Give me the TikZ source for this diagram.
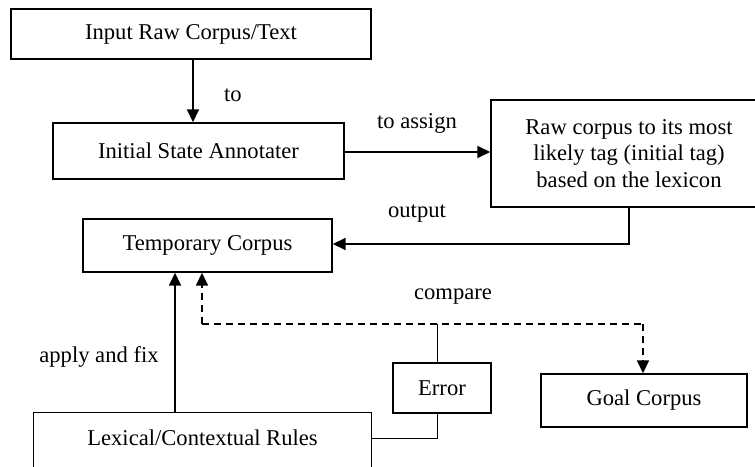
\documentclass[tikz,border=0pt]{standalone}
\usepackage{fontspec}
\setmainfont{Liberation Serif}
\usetikzlibrary{arrows.meta}
\begin{document}
\begin{tikzpicture}[x=1pt,y=-1pt,
  box/.style={draw,line width=1.4pt,rectangle,inner sep=0pt,align=center,
    font=\fontsize{22.6}{26.5}\selectfont},
  lbl/.style={font=\fontsize{22.6}{26}\selectfont,inner sep=0pt},
  arr/.style={line width=1.6pt,-{Triangle[length=13pt,width=12pt]}},
  dsh/.style={line width=1.6pt,dash pattern=on 7pt off 5pt},
  thin/.style={line width=1pt}]
\useasboundingbox (0,0) rectangle (755,466);
\node[box,minimum width=360pt,minimum height=50pt] (in) at (191,34) {Input Raw Corpus/Text};
\node[box,minimum width=291pt,minimum height=56pt] (isa) at (198.5,151) {Initial State Annotater};
\node[box,minimum width=276pt,minimum height=107pt] (raw) at (629,153.5) {Raw corpus to its most\\likely tag (initial tag)\\based on the lexicon};
\node[box,minimum width=249pt,minimum height=53pt] (tmp) at (207.5,245.5) {Temporary Corpus};
\node[box,draw=none,minimum width=337pt,minimum height=50pt] (lex) at (202.5,438) {Lexical/Contextual Rules};
\draw[line width=1.4pt] (lex.south west) ++(0,12) |- (lex.north east) -- ++(0,62);
\node[box,minimum width=98pt,minimum height=50pt] (err) at (442,388) {Error};
\node[box,minimum width=206pt,minimum height=53pt] (goal) at (644,400.5) {Goal Corpus};
\coordinate (a1) at (193,0);
\coordinate (b1) at (0,152);
\coordinate (c1) at (629,244);
\coordinate (f1) at (175,0);
\coordinate (d1) at (202,324);
\coordinate (d2) at (643,324);
\coordinate (e1) at (437,324);
\coordinate (e2) at (437,438);
% connectors
\draw[arr] (in.south -| a1) -- (isa.north -| a1);
\draw[arr] (isa.east |- b1) -- (raw.west |- b1);
\draw[arr] (raw.south -| c1) -- (c1) -- (tmp.east |- c1);
\draw[arr] (lex.north -| f1) -- (tmp.south -| f1);
\draw[arr,dsh] (d1) -- (tmp.south -| d1);
\draw[dsh] (d1) -- (d2);
\draw[arr,dsh] (d2) -- (goal.north -| d2);
\draw[thin] (e1) -- (err.north -| e1);
\draw[thin] (err.south -| e2) -- (e2) -- (lex.east |- e2);
% labels
\node[lbl] (lto) at (233,95) {to};
\node[lbl] (lassign) at (417,123) {to assign};
\node[lbl] (lout) at (417,214) {output};
\node[lbl] (lcmp) at (453,297) {compare};
\node[lbl] (lapp) at (99,357) {apply and fix};
\end{tikzpicture}
\end{document}
